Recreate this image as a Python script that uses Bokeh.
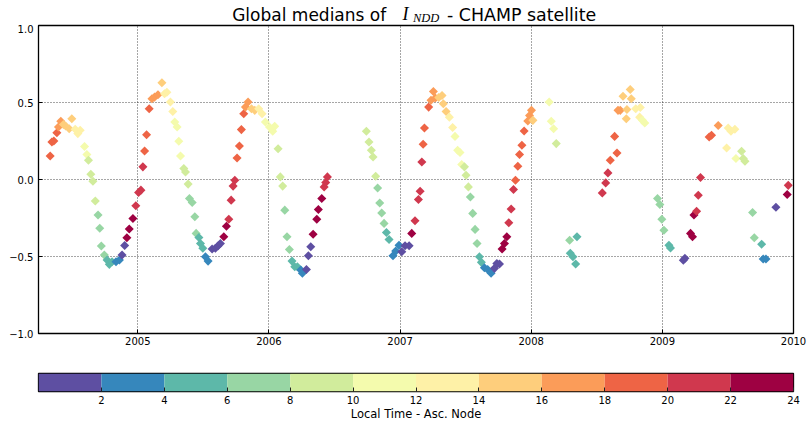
import math
from bokeh.plotting import figure
from bokeh.layouts import column
from bokeh.models import ColumnDataSource, LinearColorMapper, FixedTicker, Range1d
from bokeh.core.properties import value
from bokeh.embed import file_html
from bokeh.resources import INLINE

# ---------------- data ----------------
years = [
    2004.332, 2004.345, 2004.360, 2004.383, 2004.395, 2004.413, 2004.433, 2004.450, 2004.477, 2004.497,
    2004.523, 2004.543, 2004.561, 2004.594, 2004.612, 2004.624, 2004.642, 2004.658, 2004.676, 2004.697,
    2004.710, 2004.722, 2004.745, 2004.766, 2004.783, 2004.804, 2004.834, 2004.860, 2004.880, 2004.900,
    2004.917, 2004.935, 2004.963, 2004.985, 2005.006, 2005.024, 2005.039, 2005.052, 2005.067, 2005.087,
    2005.108, 2005.128, 2005.154, 2005.184, 2005.204, 2005.222,
    2005.249, 2005.267, 2005.282, 2005.300, 2005.313, 2005.326, 2005.351, 2005.364, 2005.384, 2005.394,
    2005.415, 2005.435, 2005.445, 2005.466, 2005.478, 2005.496, 2005.516, 2005.536, 2005.567, 2005.592,
    2005.613, 2005.630, 2005.656, 2005.676, 2005.694, 2005.712, 2005.727, 2005.740, 2005.757, 2005.775,
    2005.790, 2005.808, 2005.821, 2005.841, 2005.867, 2005.892, 2005.922, 2005.948, 2005.973, 2006.004,
    2006.029, 2006.044, 2006.070, 2006.087, 2006.105, 2006.121, 2006.138, 2006.156, 2006.176, 2006.197,
    2006.217, 2006.243, 2006.255, 2006.286, 2006.301, 2006.319, 2006.337, 2006.365, 2006.377, 2006.403,
    2006.421, 2006.433, 2006.446,
    2006.743, 2006.763, 2006.781, 2006.794, 2006.814, 2006.829, 2006.845, 2006.860, 2006.878, 2006.896,
    2006.916, 2006.946, 2006.967, 2006.992, 2007.013, 2007.038, 2007.069, 2007.089, 2007.114, 2007.140,
    2007.153, 2007.166, 2007.176, 2007.186, 2007.218, 2007.236, 2007.254, 2007.269, 2007.295, 2007.320,
    2007.330, 2007.351, 2007.376, 2007.401, 2007.419, 2007.439, 2007.457, 2007.470, 2007.491, 2007.503,
    2007.521, 2007.536, 2007.554, 2007.572, 2007.587, 2007.605, 2007.620, 2007.643, 2007.668, 2007.694,
    2007.720, 2007.738, 2007.758, 2007.778, 2007.796, 2007.814, 2007.829, 2007.847, 2007.865, 2007.880,
    2007.898, 2007.911, 2007.929, 2007.946, 2007.974, 2007.987, 2008.002, 2008.013,
    2008.137, 2008.153, 2008.171, 2008.191, 2008.293, 2008.298, 2008.318, 2008.339, 2008.349,
    2008.542, 2008.568, 2008.585, 2008.603, 2008.636, 2008.654, 2008.662, 2008.679, 2008.700, 2008.725,
    2008.730, 2008.755, 2008.763, 2008.797, 2008.827, 2008.832, 2008.848, 2008.866,
    2008.963, 2008.981, 2008.996, 2009.012, 2009.050, 2009.062, 2009.160, 2009.172, 2009.215, 2009.230,
    2009.241, 2009.261, 2009.274, 2009.291, 2009.357, 2009.375, 2009.426, 2009.490, 2009.502, 2009.523,
    2009.553, 2009.561, 2009.604, 2009.617, 2009.630, 2009.688, 2009.701, 2009.757, 2009.769, 2009.790,
    2009.866, 2009.952, 2009.960,
]

indd = [
    0.153, 0.244, 0.250, 0.304, 0.341, 0.378, 0.357, 0.347, 0.330, 0.395,
    0.326, 0.298, 0.320, 0.214, 0.162, 0.125, 0.034, -0.011, -0.140, -0.231,
    -0.317, -0.432, -0.490, -0.523, -0.551, -0.534, -0.534, -0.523, -0.490, -0.429,
    -0.378, -0.322, -0.253, -0.171, -0.084, -0.069, 0.082, 0.185, 0.291, 0.460,
    0.524, 0.535, 0.550, 0.628, 0.557, 0.567,
    0.503, 0.442, 0.373, 0.341, 0.248, 0.153, 0.071, 0.049, -0.030, -0.123,
    -0.149, -0.242, -0.350, -0.376, -0.415, -0.447, -0.502, -0.530, -0.451, -0.447,
    -0.430, -0.415, -0.372, -0.303, -0.258, -0.134, -0.043, -0.005, 0.140, 0.218,
    0.324, 0.427, 0.470, 0.503, 0.460, 0.449, 0.460, 0.427, 0.373, 0.341,
    0.313, 0.345, 0.200, 0.017, -0.043, -0.199, -0.372, -0.454, -0.530, -0.566,
    -0.566, -0.588, -0.609, -0.584, -0.495, -0.437, -0.356, -0.258, -0.195, -0.123,
    -0.048, -0.019, 0.017,
    0.313, 0.244, 0.190, 0.146, 0.021, -0.055, -0.152, -0.217, -0.285, -0.344,
    -0.389, -0.495, -0.465, -0.427, -0.469, -0.430, -0.430, -0.350, -0.268, -0.130,
    -0.076, 0.114, 0.229, 0.334, 0.470, 0.515, 0.572, 0.529, 0.533, 0.546,
    0.492, 0.442, 0.405, 0.338, 0.280, 0.190, 0.175, 0.097, 0.082, 0.028,
    -0.048, -0.113, -0.220, -0.324, -0.415, -0.502, -0.538, -0.573, -0.584, -0.609,
    -0.577, -0.545, -0.549, -0.451, -0.415, -0.372, -0.281, -0.192, -0.065, -0.005,
    0.086, 0.162, 0.222, 0.315, 0.380, 0.416, 0.449, 0.384,
    0.503, 0.378, 0.330, 0.233, -0.394, -0.479, -0.502, -0.549, -0.372,
    -0.087, -0.022, 0.043, 0.125, 0.280, 0.172, 0.449, 0.449, 0.541, 0.395,
    0.455, 0.585, 0.524, 0.460, 0.405, 0.467, 0.384, 0.367,
    -0.123, -0.162, -0.258, -0.330, -0.427, -0.445, -0.524, -0.512, -0.350, -0.372,
    -0.231, -0.206, -0.102, 0.013, 0.276, 0.287, 0.351, 0.205, 0.334, 0.313,
    0.326, 0.136, 0.183, 0.136, 0.118, -0.214, -0.378, -0.420, -0.516, -0.516,
    -0.180, -0.097, -0.038,
]

local_time = [
    19, 19, 19, 19, 17, 17, 15, 15, 15, 15,
    13, 13, 13, 11, 11, 9, 9, 9, 9, 7,
    7, 7, 7, 5, 5, 5, 3, 3, 1, 1,
    23, 23, 23, 21, 21, 21, 21, 19, 19, 19,
    17, 17, 17, 15, 13, 13,
    13, 13, 11, 11, 11, 11, 9, 9, 9, 7,
    7, 7, 7, 5, 5, 5, 3, 3, 1, 1,
    1, 1, 23, 23, 21, 21, 21, 21, 19, 19,
    19, 19, 17, 17, 15, 15, 13, 13, 11, 11,
    11, 11, 9, 9, 9, 7, 7, 7, 5, 5,
    5, 3, 3, 1, 1, 1, 23, 23, 23, 23,
    21, 21, 21,
    9, 9, 9, 9, 9, 7, 7, 7, 7, 5,
    5, 3, 3, 3, 1, 1, 1, 23, 21, 21,
    21, 21, 19, 19, 19, 17, 17, 17, 15, 15,
    15, 15, 13, 13, 11, 11, 11, 11, 9, 9,
    9, 7, 7, 7, 7, 5, 5, 3, 3, 3,
    1, 1, 1, 23, 23, 23, 21, 21, 21, 19,
    19, 19, 19, 19, 17, 17, 17, 15,
    11, 11, 11, 9, 7, 5, 5, 5, 5,
    21, 21, 21, 19, 19, 19, 17, 17, 15, 15,
    15, 15, 15, 13, 13, 13, 11, 11,
    7, 7, 7, 7, 5, 5, 1, 1, 23, 23,
    23, 21, 21, 21, 19, 19, 17, 13, 13, 13,
    13, 11, 9, 9, 9, 7, 7, 5, 3, 3,
    1, 23, 21,
]

x_ticks = [2005, 2006, 2007, 2008, 2009, 2010]
y_ticks = [-1.0, -0.5, 0.0, 0.5, 1.0]
y_tick_labels = ["\u22121.0", "\u22120.5", "0.0", "0.5", "1.0"]
lt_edges = [0, 2, 4, 6, 8, 10, 12, 14, 16, 18, 20, 22, 24]
lt_ticks = [2, 4, 6, 8, 10, 12, 14, 16, 18, 20, 22, 24]
palette = ["#5e4fa2", "#3687bc", "#5db8a9", "#98d6a4", "#d1ec9c", "#f4fbad",
           "#fef1a7", "#fece7c", "#fb9c59", "#ee6445", "#d0384e", "#9e0142"]

title_left = "Global medians of"
title_sym = "I"
title_sub = "NDD"
title_right = "- CHAMP satellite"
cbar_label = "Local Time - Asc. Node"

FONT = "DejaVu Sans"
SERIF = "Liberation Serif"
mapper = LinearColorMapper(palette=palette, low=0, high=24)

# ---------------- title strip: x in px from the plot frame's left edge, y in px from top ----------------
t = figure(width=808, height=24, x_range=Range1d(0, 755), y_range=Range1d(24, 0),
           output_backend="svg", toolbar_location=None, x_axis_type=None, y_axis_type=None,
           min_border_left=38, min_border_right=15, min_border_top=0, min_border_bottom=0)
t.outline_line_color = None
t.background_fill_color = None
t.border_fill_color = "white"
t.grid.visible = False
t.text(x=[193.7], y=[14.0], text=[title_left], text_font=value(FONT), text_font_size="17px",
       text_baseline="middle", text_align="left", text_color="black")
t.text(x=[364.0], y=[13.9], text=[title_sym], text_font=value(SERIF), text_font_style="italic",
       text_font_size="18px", text_baseline="middle", text_align="left", text_color="black")
t.text(x=[374.5], y=[17.4], text=[title_sub], text_font=value(SERIF), text_font_style="italic",
       text_font_size="12.5px", text_baseline="middle", text_align="left", text_color="black")
t.text(x=[408.5], y=[14.0], text=[title_right], text_font=value(FONT), text_font_size="17.4px",
       text_baseline="middle", text_align="left", text_color="black")

# ---------------- main scatter ----------------
p = figure(width=808, height=329,
           x_range=Range1d(2004.243, 2010.0), y_range=Range1d(-1.0, 1.0),
           output_backend="svg", toolbar_location=None,
           min_border_left=38, min_border_right=15, min_border_top=1, min_border_bottom=20)
p.background_fill_color = "white"
p.border_fill_color = "white"
p.outline_line_color = "black"
p.outline_line_width = 1.3

src = ColumnDataSource(dict(year=years, indd=indd, lt=local_time))
p.scatter("year", "indd", source=src, marker="square", angle=math.pi / 4, size=6.4,
          fill_color={"field": "lt", "transform": mapper}, line_color=None)

p.xaxis.ticker = FixedTicker(ticks=x_ticks)
p.yaxis.ticker = FixedTicker(ticks=y_ticks)
p.yaxis.major_label_overrides = {t_: s for t_, s in zip(y_ticks, y_tick_labels)}
p.xaxis.major_label_overrides = {t_: str(t_) for t_ in x_ticks}
for ax in (p.xaxis, p.yaxis):
    ax.axis_line_color = None
    ax.major_tick_in = 4
    ax.major_tick_out = 0
    ax.major_tick_line_color = "black"
    ax.minor_tick_line_color = None
    ax.major_label_text_font = FONT
    ax.major_label_text_font_size = "10px"
    ax.major_label_text_color = "black"
p.xaxis.major_label_standoff = 3
p.yaxis.major_label_standoff = 5

p.grid.grid_line_color = "black"
p.grid.grid_line_alpha = 0.7
p.grid.grid_line_dash = "1 2"
p.grid.grid_line_width = 1

# ---------------- colour bar ----------------
p2 = figure(width=808, height=70, x_range=Range1d(0, 24), y_range=Range1d(0, 1),
            output_backend="svg", toolbar_location=None,
            min_border_left=38, min_border_right=15, min_border_top=20, min_border_bottom=29)
p2.background_fill_color = "white"
p2.border_fill_color = "white"
p2.outline_line_color = "black"
p2.outline_line_width = 1.3
mids = [(a + b) / 2 for a, b in zip(lt_edges[:-1], lt_edges[1:])]
csrc = ColumnDataSource(dict(left=lt_edges[:-1], right=lt_edges[1:], mid=mids))
p2.quad(left="left", right="right", bottom=0, top=1, source=csrc,
        fill_color={"field": "mid", "transform": mapper}, line_color=None)
p2.grid.visible = False
p2.yaxis.visible = False
p2.xaxis.ticker = FixedTicker(ticks=lt_ticks)
p2.xaxis.axis_line_color = None
p2.xaxis.major_tick_in = 4
p2.xaxis.major_tick_out = 0
p2.xaxis.major_tick_line_color = "#222222"
p2.xaxis.minor_tick_line_color = None
p2.xaxis.major_label_text_font = FONT
p2.xaxis.major_label_text_font_size = "10px"
p2.xaxis.major_label_text_color = "black"
p2.xaxis.major_label_standoff = 4
p2.xaxis.axis_label = cbar_label
p2.xaxis.axis_label_text_font = FONT
p2.xaxis.axis_label_text_font_size = "11.5px"
p2.xaxis.axis_label_text_font_style = "normal"
p2.xaxis.axis_label_text_color = "black"
p2.xaxis.axis_label_standoff = 0

layout = column(t, p, p2, spacing=0)
open("out.html", "w").write(file_html(layout, INLINE))
